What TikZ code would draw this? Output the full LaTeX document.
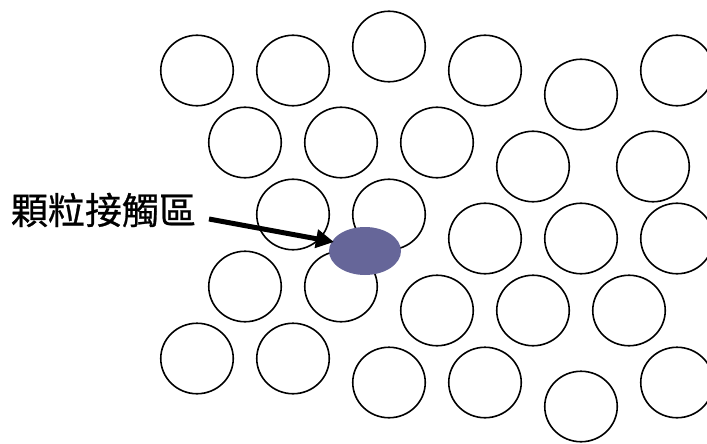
\documentclass[tikz,border=0pt]{standalone}
\usepackage{fontspec}
\newfontfamily\cjk[FakeBold=0.7]{Noto Sans CJK TC}
\usetikzlibrary{arrows.meta,shapes.geometric}
\definecolor{contactfill}{RGB}{102,102,153}
\begin{document}
\begin{tikzpicture}[x=1pt,y=-1pt,
  grain/.style={ellipse,draw=black,line width=1.6pt,minimum width=72.5pt,minimum height=70.5pt,inner sep=0pt},
  contactzone/.style={ellipse,fill=contactfill,minimum width=72pt,minimum height=48pt,inner sep=0pt},
  pointer/.style={line width=5pt,-{Triangle[length=18pt,width=18pt]}},
  labeltext/.style={font=\cjk\fontsize{37pt}{40pt}\selectfont,inner sep=0pt,anchor=center}]
\useasboundingbox (0,0) rectangle (707,444);
\clip (0,0) rectangle (707,444);
% row 1
\node[grain] (g11) at (197,70.5) {};
\node[grain] (g12) at (293,70.5) {};
\node[grain] (g13) at (389,46.5) {};
\node[grain] (g14) at (485,70.5) {};
\node[grain] (g15) at (581,94.5) {};
\node[grain] (g16) at (677,70.5) {};
% row 2
\node[grain] (g21) at (245,142.5) {};
\node[grain] (g22) at (341,142.5) {};
\node[grain] (g23) at (437,142.5) {};
\node[grain] (g24) at (533,166.5) {};
\node[grain] (g25) at (653,166.5) {};
% row 3
\node[grain] (g31) at (293,214.5) {};
\node[grain] (g32) at (389,214.5) {};
\node[grain] (g33) at (485,238.5) {};
\node[grain] (g34) at (581,238.5) {};
\node[grain] (g35) at (677,238.5) {};
% row 4
\node[grain] (g41) at (245,286.5) {};
\node[grain] (g42) at (341,286.5) {};
\node[grain] (g43) at (437,310.5) {};
\node[grain] (g44) at (533,310.5) {};
\node[grain] (g45) at (629,310.5) {};
% row 5
\node[grain] (g51) at (197,358.5) {};
\node[grain] (g52) at (293,358.5) {};
\node[grain] (g53) at (389,382.5) {};
\node[grain] (g54) at (485,382.5) {};
\node[grain] (g55) at (581,406.5) {};
\node[grain] (g56) at (677,382.5) {};
% contact zone
\node[contactzone] (contact) at (365,251) {};
% label
\node[labeltext] (label) at (103.5,210) {顆粒接觸區};
\coordinate (arrowtail) at (209,219);
\coordinate (arrowtip) at (334,242);
\draw[pointer] (arrowtail) -- (arrowtip);
\end{tikzpicture}
\end{document}
